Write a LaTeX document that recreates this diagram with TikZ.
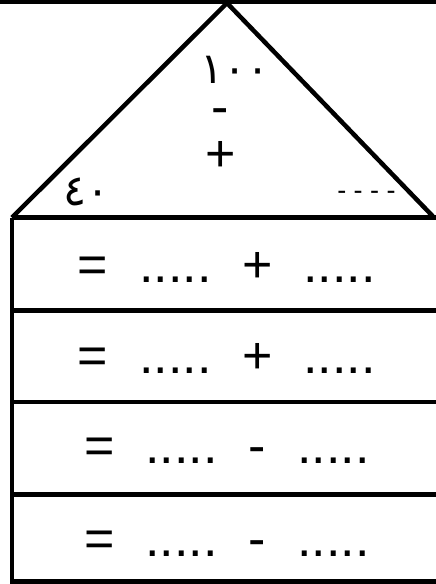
\documentclass[tikz,border=0pt]{standalone}
\usepackage{fontspec}
\setmainfont{Liberation Sans}
\newfontfamily\arabicfont{DejaVu Sans}
\begin{document}
\begin{tikzpicture}[x=1pt,y=-1pt,
  frame/.style={line width=4.5pt, line join=miter},
  big/.style={font=\fontsize{52}{60}\selectfont, inner sep=0pt, anchor=base},
  small/.style={font=\fontsize{27}{30}\selectfont, inner sep=0pt, anchor=base},
  arab/.style={font=\arabicfont\fontsize{43}{50}\selectfont, inner sep=0pt, anchor=base}]
\useasboundingbox (0,0) rectangle (436,584);
% top line
\coordinate (tl) at (0,2);
\coordinate (tr) at (436,2);
\draw[frame] (tl) -- (tr);
% triangle
\coordinate (apex) at (227,3);
\coordinate (bl) at (12,217.5);
\coordinate (br) at (434,217.5);
\draw[frame] (bl) -- (apex) -- (br);
% table
\coordinate (r0) at (12,217.5);
\coordinate (r1) at (12,310.5);
\coordinate (r2) at (12,402);
\coordinate (r3) at (12,494.5);
\coordinate (r4) at (12,581.5);
\draw[frame] (r0) -- (r4) -- ++(440,0);
\draw[frame] (r0) -- ++(440,0);
\draw[frame] (r1) -- ++(440,0);
\draw[frame] (r2) -- ++(440,0);
\draw[frame] (r3) -- ++(440,0);
% triangle texts
\node[arab] (hundred) at (235,83) {١٠٠};
\node[arab] (forty) at (87,205) {٤٠};
\node[big] (tminus) at (220,124.5) {-};
\node[big] (tplus) at (220.5,171) {+};
\node[small] (blank) at (366.5,199.5) {- - - -};
% row 1
\node[big] (eqa) at (92.5,282) {=};
\node[big] (d1a) at (175.5,282) {.....};
\node[big] (opa) at (257.5,282) {+};
\node[big] (d2a) at (339.5,282) {.....};
% row 2
\node[big] (eqb) at (92.5,373) {=};
\node[big] (d1b) at (175.5,373) {.....};
\node[big] (opb) at (257.5,373) {+};
\node[big] (d2b) at (339.5,373) {.....};
% row 3
\node[big] (eqc) at (100,463) {=};
\node[big] (d1c) at (181.5,463) {.....};
\node[big] (opc) at (257,463) {-};
\node[big] (d2c) at (333.5,463) {.....};
% row 4
\node[big] (eqd) at (100,556) {=};
\node[big] (d1d) at (181.5,556) {.....};
\node[big] (opd) at (257,556) {-};
\node[big] (d2d) at (333.5,556) {.....};
\end{tikzpicture}
\end{document}
